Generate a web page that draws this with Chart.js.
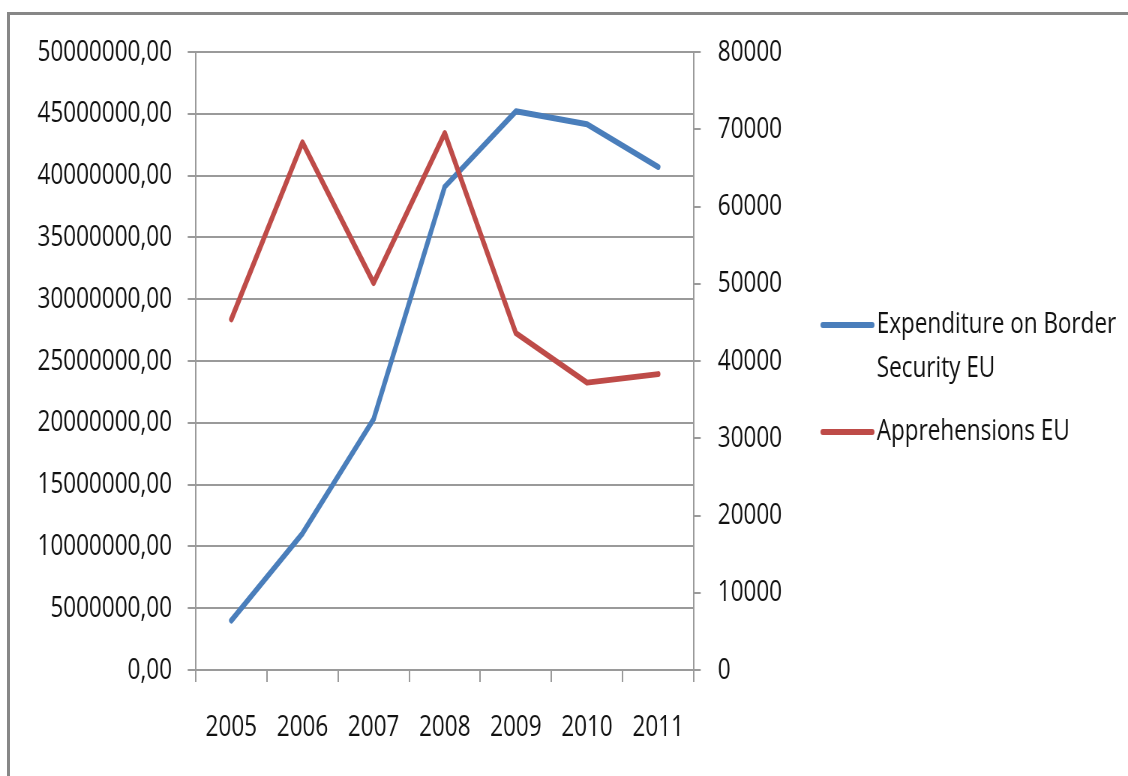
<!DOCTYPE html>
<html>
<head>
<meta charset="utf-8">
<script src="https://cdn.jsdelivr.net/npm/chart.js@4"></script>
<style>
  body { margin: 0; background: #fff; overflow: hidden; width: 1128px; height: 776px; position: relative; }
  #frame { position: absolute; left: 7px; top: 12px; width: 1200px; height: 800px; border-top: 3px solid #878787; border-left: 3px solid #878787; }
  /* chart is drawn wide, then squeezed horizontally for the narrow lettering */
  #wrap { position: absolute; left: 0; top: 0; width: 1504px; height: 776px; transform: scaleX(0.75); transform-origin: 0 0; }
</style>
</head>
<body>
<div id="frame"></div>
<div id="wrap"><canvas id="chart" width="1504" height="776"></canvas></div>
<script>
const years = ["2005", "2006", "2007", "2008", "2009", "2010", "2011"];
const expenditure = [4000000, 11050000, 20300000, 39100000, 45200000, 44150000, 40700000];
const apprehensions = [45400, 68300, 50100, 69500, 43600, 37200, 38300];

const leftMax = 50000000;
const leftStep = 5000000;
const rightMax = 80000;
const rightStep = 10000;

const gridColor = "#9a9a9a";
const textColor = "#111111";
const fontFamily = "'Open Sans', 'Liberation Sans', sans-serif";

Chart.defaults.font.family = fontFamily;
Chart.defaults.font.size = 30;
Chart.defaults.color = textColor;

// split a legend label into lines that fit maxWidth
function wrapText(ctx, text, maxWidth) {
  const words = text.split(" ");
  const lines = [];
  let line = "";
  words.forEach((w) => {
    const test = line ? line + " " + w : w;
    if (line && ctx.measureText(test).width > maxWidth) {
      lines.push(line);
      line = w;
    } else {
      line = test;
    }
  });
  if (line) lines.push(line);
  return lines;
}

// legend on the right side, with wrapped labels
const sideLegend = {
  id: "sideLegend",
  afterDraw(chart) {
    const ctx = chart.ctx;
    const x0 = 1097, x1 = 1163, tx = 1169;
    const rows = [325, 432];
    ctx.save();
    ctx.font = "30px " + fontFamily;
    ctx.fillStyle = textColor;
    ctx.textAlign = "left";
    ctx.textBaseline = "alphabetic";
    chart.data.datasets.forEach((ds, i) => {
      const y = rows[i];
      ctx.strokeStyle = ds.borderColor;
      ctx.lineWidth = 6;
      ctx.lineCap = "round";
      ctx.beginPath();
      ctx.moveTo(x0, y);
      ctx.lineTo(x1, y);
      ctx.stroke();
      wrapText(ctx, ds.label, 340).forEach((line, j) => {
        ctx.fillText(line, tx, y + 8 + j * 44);
      });
    });
    ctx.restore();
  },
};

new Chart(document.getElementById("chart").getContext("2d"), {
  type: "line",
  data: {
    labels: years,
    datasets: [
      {
        label: "Expenditure on Border Security EU",
        data: expenditure,
        yAxisID: "y",
        borderColor: "#4A7EBB",
        backgroundColor: "#4A7EBB",
        borderWidth: 6,
        pointRadius: 0,
        tension: 0,
        borderJoinStyle: "round",
        borderCapStyle: "round",
        order: 2,
      },
      {
        label: "Apprehensions EU",
        data: apprehensions,
        yAxisID: "y1",
        borderColor: "#BE4B48",
        backgroundColor: "#BE4B48",
        borderWidth: 6,
        pointRadius: 0,
        tension: 0,
        borderJoinStyle: "round",
        borderCapStyle: "round",
        order: 1,
      },
    ],
  },
  options: {
    responsive: false,
    animation: false,
    layout: { padding: { top: 52, left: 0, right: 0, bottom: 0 } },
    plugins: {
      legend: { display: false },
      tooltip: { enabled: false },
    },
    scales: {
      x: {
        offset: true,
        grid: { offset: true, drawOnChartArea: false, tickLength: 12, color: gridColor, lineWidth: 2 },
        border: { color: gridColor, width: 2 },
        ticks: { padding: 27, maxRotation: 0, autoSkip: false },
        afterFit: (s) => { s.height = 106; },
      },
      y: {
        position: "left",
        min: 0,
        max: leftMax,
        ticks: {
          stepSize: leftStep,
          padding: 21,
          callback: (v) => v.toFixed(2).replace(".", ","),
        },
        grid: { tickLength: 10.7, color: gridColor, lineWidth: 2 },
        border: { color: gridColor, width: 2 },
        afterFit: (s) => { s.width = 261; },
      },
      y1: {
        position: "right",
        min: 0,
        max: rightMax,
        ticks: { stepSize: rightStep, padding: 22.7, callback: (v) => String(v) },
        grid: { drawOnChartArea: false, tickLength: 9.3, color: gridColor, lineWidth: 2 },
        border: { color: gridColor, width: 2 },
        afterFit: (s) => { s.width = 1504 - 925; },
      },
    },
  },
  plugins: [sideLegend],
});
</script>
</body>
</html>
